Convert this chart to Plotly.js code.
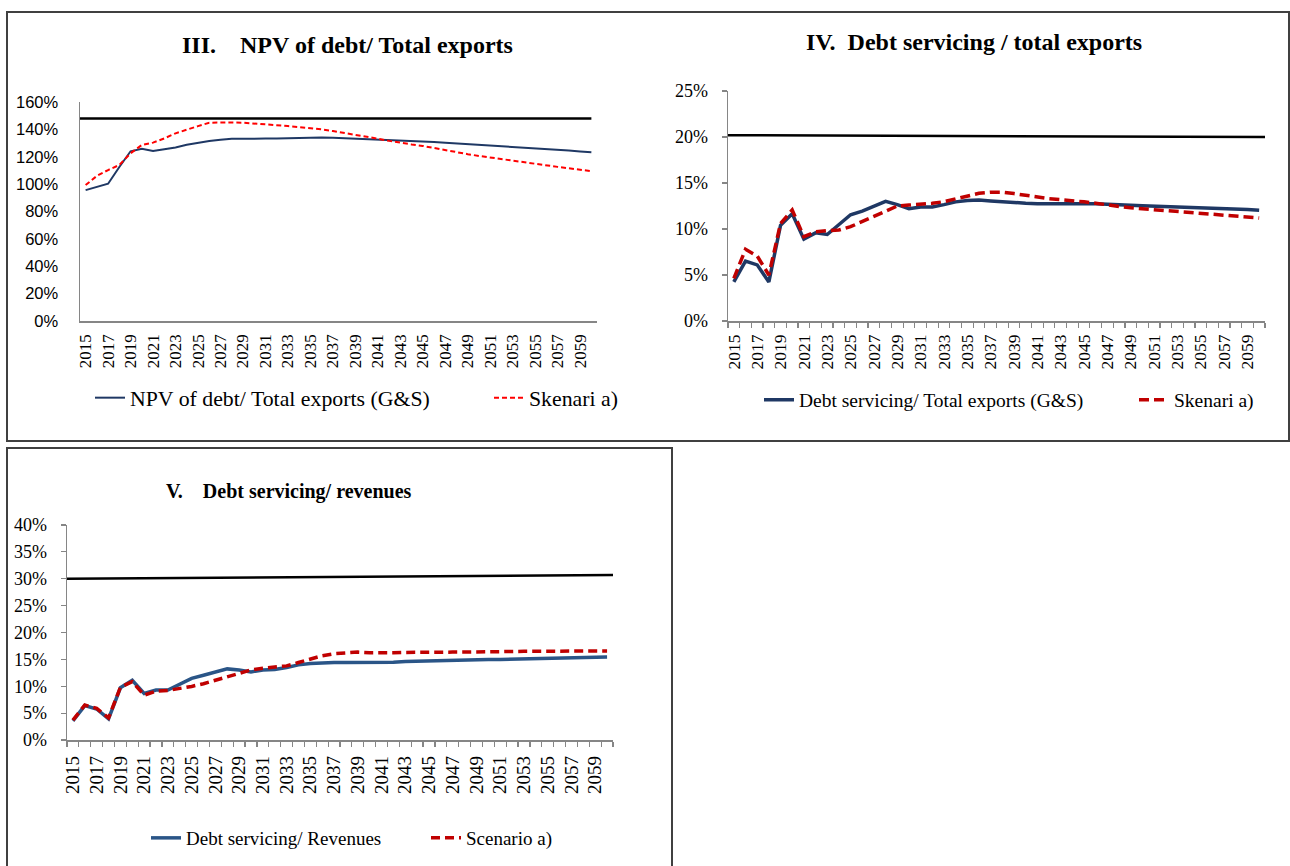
<!DOCTYPE html>
<html>
<head>
<meta charset="utf-8">
<script src="https://cdn.plot.ly/plotly-3.0.1.min.js"></script>
<style>html,body{margin:0;padding:0;background:#fff;}#chart{width:1290px;height:866px;}</style>
</head>
<body>
<div id="chart"></div>
<script>
const years = [2015,2016,2017,2018,2019,2020,2021,2022,2023,2024,2025,2026,2027,2028,2029,2030,2031,2032,2033,2034,2035,2036,2037,2038,2039,2040,2041,2042,2043,2044,2045,2046,2047,2048,2049,2050,2051,2052,2053,2054,2055,2056,2057,2058,2059,2060];
const tickYears = [2015,2017,2019,2021,2023,2025,2027,2029,2031,2033,2035,2037,2039,2041,2043,2045,2047,2049,2051,2053,2055,2057,2059];
const tickLabels = ["2015","2017","2019","2021","2023","2025","2027","2029","2031","2033","2035","2037","2039","2041","2043","2045","2047","2049","2051","2053","2055","2057","2059"];

// III. NPV of debt / Total exports
const npvExports = [0.956,0.978,1.003,1.125,1.240,1.258,1.242,1.255,1.268,1.287,1.303,1.315,1.324,1.332,1.331,1.330,1.333,1.334,1.336,1.340,1.342,1.341,1.339,1.336,1.334,1.330,1.326,1.323,1.320,1.316,1.313,1.308,1.303,1.298,1.294,1.289,1.284,1.279,1.274,1.269,1.262,1.257,1.250,1.245,1.238,1.232];
const npvSkenari = [0.993,1.060,1.103,1.140,1.225,1.286,1.303,1.334,1.371,1.395,1.424,1.449,1.451,1.451,1.449,1.444,1.439,1.432,1.424,1.417,1.410,1.400,1.388,1.375,1.361,1.347,1.332,1.316,1.301,1.290,1.279,1.263,1.249,1.233,1.219,1.206,1.194,1.182,1.170,1.158,1.146,1.136,1.126,1.116,1.106,1.095];
const thresholdYearsIII = [2014.5, 2060];
const thresholdIII = [1.48, 1.48];

// IV. Debt servicing / total exports
const dsExports = [0.0425,0.065,0.061,0.0425,0.104,0.1165,0.089,0.0958,0.094,0.1048,0.1155,0.1195,0.125,0.130,0.1265,0.122,0.124,0.124,0.1265,0.1295,0.131,0.1315,0.1305,0.1295,0.1285,0.128,0.1275,0.1275,0.1278,0.128,0.128,0.1275,0.1268,0.126,0.1257,0.1254,0.125,0.1246,0.1243,0.1239,0.1236,0.1229,0.1225,0.1218,0.1212,0.1205];
const dsSkenari = [0.0464,0.0779,0.0707,0.050,0.106,0.1207,0.0916,0.097,0.0982,0.0989,0.1025,0.108,0.1134,0.1188,0.125,0.126,0.1268,0.1279,0.1297,0.1326,0.1359,0.1388,0.1399,0.140,0.1385,0.1365,0.1345,0.133,0.132,0.131,0.1295,0.128,0.126,0.1245,0.123,0.122,0.121,0.1205,0.1195,0.1185,0.1175,0.1165,0.1155,0.1145,0.1135,0.112];
const thresholdYearsIV = [2014.5, 2060.5];
const thresholdIV = [0.202, 0.200];

// V. Debt servicing / revenues
const dsRevenues = [0.0357,0.064,0.0577,0.0395,0.0972,0.111,0.0865,0.0928,0.0928,0.1034,0.1147,0.1204,0.1266,0.1323,0.1304,0.1266,0.1304,0.131,0.1348,0.1398,0.1423,0.1436,0.1442,0.1442,0.1442,0.1436,0.1436,0.1448,0.146,0.1467,0.1473,0.1477,0.1482,0.1486,0.1491,0.1496,0.150,0.1505,0.1509,0.1514,0.1519,0.1523,0.1528,0.1532,0.1537,0.1542];
const revScenario = [0.037,0.065,0.059,0.041,0.098,0.1085,0.0834,0.0909,0.0922,0.0953,0.0997,0.1047,0.111,0.1179,0.1248,0.1304,0.1335,0.1354,0.1379,0.1442,0.1505,0.1567,0.1605,0.1624,0.1636,0.1624,0.162,0.1625,0.163,0.1635,0.164,0.164,0.1635,0.1635,0.1635,0.164,0.1645,0.165,0.165,0.1652,0.1653,0.1654,0.1655,0.1656,0.1656,0.1656];
const thresholdYearsV = [2014.5, 2060.5];
const thresholdV = [0.300, 0.307];

const W = 1290, H = 866;
const px = v => v / W;
const py = v => 1 - v / H;
const SERIF = 'Liberation Serif, Times New Roman, serif';
const SANS = 'Liberation Sans, Arial, sans-serif';
const AX = '#868686';

const traces = [
  {x: thresholdYearsIII, y: thresholdIII, xaxis: 'x', yaxis: 'y', mode: 'lines', line: {color: '#000', width: 2.5}, showlegend: false, hoverinfo: 'skip'},
  {x: years, y: npvExports, xaxis: 'x', yaxis: 'y', mode: 'lines', name: 'NPV of debt/ Total exports (G&S)', line: {color: '#1F3864', width: 2}, legend: 'legend'},
  {x: years, y: npvSkenari, xaxis: 'x', yaxis: 'y', mode: 'lines', name: 'Skenari a)', line: {color: '#FF0000', width: 2, dash: '5px,3px'}, legend: 'legend'},

  {x: thresholdYearsIV, y: thresholdIV, xaxis: 'x2', yaxis: 'y2', mode: 'lines', line: {color: '#000', width: 2.5}, showlegend: false, hoverinfo: 'skip'},
  {x: years, y: dsExports, xaxis: 'x2', yaxis: 'y2', mode: 'lines', name: 'Debt servicing/ Total exports (G&S)', line: {color: '#1F3864', width: 3.5}, legend: 'legend2'},
  {x: years, y: dsSkenari, xaxis: 'x2', yaxis: 'y2', mode: 'lines', name: 'Skenari a)', line: {color: '#C00000', width: 3.5, dash: '10px,5px'}, legend: 'legend2'},

  {x: thresholdYearsV, y: thresholdV, xaxis: 'x3', yaxis: 'y3', mode: 'lines', line: {color: '#000', width: 2.5}, showlegend: false, hoverinfo: 'skip'},
  {x: years, y: dsRevenues, xaxis: 'x3', yaxis: 'y3', mode: 'lines', name: 'Debt servicing/ Revenues', line: {color: '#2A5587', width: 3.5}, legend: 'legend3'},
  {x: years, y: revScenario, xaxis: 'x3', yaxis: 'y3', mode: 'lines', name: 'Scenario a)', line: {color: '#C00000', width: 3.5, dash: '9px,5px'}, legend: 'legend3'}
];

function xAxis(domain, anchor, fontSize, withTicks, standoff) {
  const a = {
    domain: domain, anchor: anchor, type: 'linear', range: [2014.5, 2060.5],
    tickmode: 'array', tickvals: tickYears, ticktext: tickLabels, tickangle: -90,
    showgrid: false, zeroline: false, showline: true, linecolor: AX, linewidth: 1.5,
    ticks: '', tickfont: {family: SERIF, size: fontSize, color: '#000'},
    ticklabelstandoff: standoff, automargin: false, fixedrange: true
  };
  if (withTicks) {
    a.minor = {tick0: 2014.5, dtick: 1, ticks: 'outside', ticklen: 5, tickcolor: AX, tickwidth: 1.2, showgrid: false};
  }
  return a;
}
function yAxis(domain, anchor, range, dtick, font, withTicks, standoff) {
  return {
    domain: domain, anchor: anchor, range: range, dtick: dtick, tick0: 0, tickformat: '.0%',
    showgrid: false, zeroline: false, showline: true, linecolor: AX, linewidth: 1.5,
    ticks: withTicks ? 'outside' : '', ticklen: 5, tickcolor: AX, tickwidth: 1.2,
    tickfont: font, ticklabelstandoff: standoff, automargin: false, fixedrange: true
  };
}

const layout = {
  width: W, height: H, autosize: false,
  margin: {l: 0, r: 0, t: 0, b: 0, pad: 0, autoexpand: false},
  paper_bgcolor: '#fff', plot_bgcolor: 'rgba(0,0,0,0)',
  font: {family: SERIF, color: '#000'},
  xaxis: xAxis([px(80), px(597)], 'y', 17, false, 5),
  yaxis: yAxis([py(321), py(102)], 'x', [0, 1.6], 0.2, {family: SANS, size: 16.5, color: '#000'}, false, 17),
  xaxis2: xAxis([px(728), px(1265)], 'y2', 17.5, true, 5),
  yaxis2: yAxis([py(321), py(91)], 'x2', [0, 0.25], 0.05, {family: SERIF, size: 18, color: '#000'}, true, 10),
  xaxis3: xAxis([px(67), px(613)], 'y3', 19, true, 7),
  yaxis3: yAxis([py(740), py(525)], 'x3', [0, 0.40], 0.05, {family: SERIF, size: 18, color: '#000'}, true, 10),
  legend: {orientation: 'h', x: px(90), y: py(398), xanchor: 'left', yanchor: 'middle', entrywidth: 354, entrywidthmode: 'pixels', font: {family: SERIF, size: 21.8, color: '#000'}, bgcolor: 'rgba(0,0,0,0)', traceorder: 'normal'},
  legend2: {orientation: 'h', x: px(759), y: py(400), xanchor: 'left', yanchor: 'middle', entrywidth: 330, entrywidthmode: 'pixels', font: {family: SERIF, size: 19.5, color: '#000'}, bgcolor: 'rgba(0,0,0,0)', traceorder: 'normal'},
  legend3: {orientation: 'h', x: px(146), y: py(838), xanchor: 'left', yanchor: 'middle', entrywidth: 235, entrywidthmode: 'pixels', font: {family: SERIF, size: 19, color: '#000'}, bgcolor: 'rgba(0,0,0,0)', traceorder: 'normal'},
  annotations: [
    {xref: 'paper', yref: 'paper', x: px(347), y: py(45), xanchor: 'center', yanchor: 'middle', showarrow: false,
     text: '<b>III.\u00a0\u00a0\u00a0\u00a0NPV of debt/ Total exports</b>', font: {family: SERIF, size: 24, color: '#000'}},
    {xref: 'paper', yref: 'paper', x: px(974), y: py(42), xanchor: 'center', yanchor: 'middle', showarrow: false,
     text: '<b>IV.\u00a0\u00a0Debt servicing / total exports</b>', font: {family: SERIF, size: 24, color: '#000'}},
    {xref: 'paper', yref: 'paper', x: px(289), y: py(491), xanchor: 'center', yanchor: 'middle', showarrow: false,
     text: '<b>V.\u00a0\u00a0\u00a0\u00a0Debt servicing/ revenues</b>', font: {family: SERIF, size: 20, color: '#000'}}
  ],
  shapes: [
    {type: 'rect', xref: 'paper', yref: 'paper', x0: px(7), x1: px(1289), y0: py(441), y1: py(12), line: {color: '#404040', width: 2}, fillcolor: 'rgba(0,0,0,0)'},
    {type: 'rect', xref: 'paper', yref: 'paper', x0: px(7), x1: px(672), y0: py(875), y1: py(448), line: {color: '#404040', width: 2}, fillcolor: 'rgba(0,0,0,0)'}
  ]
};

Plotly.newPlot('chart', traces, layout, {displayModeBar: false, staticPlot: true});
</script>
</body>
</html>
